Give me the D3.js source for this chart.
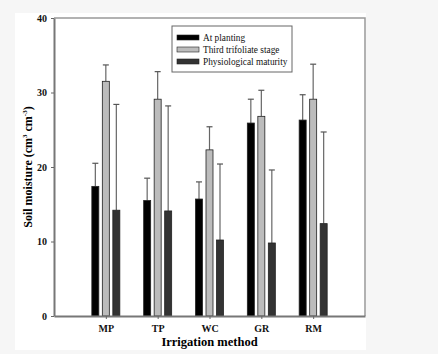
<!DOCTYPE html>
<head>
  <meta charset="utf-8">
  <title>Soil moisture</title>
  <script src="https://d3js.org/d3.v7.min.js"></script>
  <style>
    body { margin: 0; background: #f6f6f6; }
    text { font-family: "Liberation Serif", "DejaVu Serif", serif; }
  </style>
</head>
<body>
  <div id="chart"></div>
  <script>
    // Daten
    var methods = ['MP', 'TP', 'WC', 'GR', 'RM'];
    var stages = ['At planting', 'Third trifoliate stage', 'Physiological maturity'];
    var planting = [17.4, 15.5, 15.7, 25.9, 26.3];
    var plantingErr = [3.1, 3.0, 2.3, 3.2, 3.4];
    var trifoliate = [31.5, 29.1, 22.3, 26.8, 29.1];
    var trifoliateErr = [2.2, 3.7, 3.1, 3.5, 4.7];
    var maturity = [14.2, 14.1, 10.2, 9.8, 12.4];
    var maturityErr = [14.2, 14.1, 10.2, 9.8, 12.3];
    var yTicks = [0, 10, 20, 30, 40];

    var colors = ['#000000', '#bcbcbc', '#333333'];
    var series = [planting, trifoliate, maturity];
    var errors = [plantingErr, trifoliateErr, maturityErr];

    var width = 438, height = 354;
    var margin = { top: 18, right: 73, bottom: 38, left: 54 };
    var serif = '"Liberation Serif", "Times New Roman", serif';

    var svg = d3.select('#chart').append('svg')
      .attr('width', width)
      .attr('height', height);

    // weisse Grafikflaeche
    svg.append('rect')
      .attr('x', 15).attr('y', 13)
      .attr('width', 351).attr('height', 337)
      .attr('fill', '#fff');

    var x = d3.scalePoint()
      .domain(methods)
      .range([margin.left, width - margin.right])
      .padding(1);

    var y = d3.scaleLinear()
      .domain([0, 40])
      .range([height - margin.bottom, margin.top]);

    var offsets = [-10.5, 0, 10.5];
    var barW = 7;

    // Rahmen oben und rechts
    svg.append('path')
      .attr('d', 'M' + margin.left + ',' + y(40) + 'H' + (width - margin.right) + 'V' + y(0))
      .attr('fill', 'none')
      .attr('stroke', '#999')
      .attr('stroke-width', 1.5);

    // Balken und Fehlerbalken
    series.forEach(function (vals, s) {
      var g = svg.append('g');
      var rows = methods.map(function (m, i) {
        return { m: m, v: vals[i], e: errors[s][i] };
      });
      g.selectAll('line.err')
        .data(rows)
        .enter().append('line')
          .attr('x1', function (d) { return x(d.m) + offsets[s]; })
          .attr('x2', function (d) { return x(d.m) + offsets[s]; })
          .attr('y1', function (d) { return y(d.v); })
          .attr('y2', function (d) { return y(d.v + d.e); })
          .attr('stroke', '#666')
          .attr('stroke-width', 1.2);
      g.selectAll('line.cap')
        .data(rows)
        .enter().append('line')
          .attr('x1', function (d) { return x(d.m) + offsets[s] - 3; })
          .attr('x2', function (d) { return x(d.m) + offsets[s] + 3; })
          .attr('y1', function (d) { return y(d.v + d.e); })
          .attr('y2', function (d) { return y(d.v + d.e); })
          .attr('stroke', '#555')
          .attr('stroke-width', 1.2);
      g.selectAll('rect')
        .data(rows)
        .enter().append('rect')
          .attr('x', function (d) { return x(d.m) + offsets[s] - barW / 2; })
          .attr('y', function (d) { return y(d.v); })
          .attr('width', barW)
          .attr('height', function (d) { return y(0) - y(d.v); })
          .attr('fill', colors[s])
          .attr('stroke', '#222')
          .attr('stroke-width', 0.8);
    });

    // Achsen
    var xAxis = svg.append('g')
      .attr('transform', 'translate(0,' + y(0) + ')')
      .call(d3.axisBottom(x).tickSize(3).tickSizeOuter(0).tickPadding(6));
    var yAxis = svg.append('g')
      .attr('transform', 'translate(' + margin.left + ',0)')
      .call(d3.axisLeft(y).tickValues(yTicks).tickSize(3).tickSizeOuter(0).tickPadding(4));

    [xAxis, yAxis].forEach(function (a) {
      a.select('.domain').attr('stroke', '#777').attr('stroke-width', 2);
      a.selectAll('.tick line').attr('stroke', '#666');
      a.selectAll('.tick text')
        .attr('fill', '#111')
        .style('font-family', serif)
        .style('font-size', '10px')
        .style('font-weight', 'bold');
    });

    // Achsentitel
    svg.append('text')
      .attr('x', (margin.left + width - margin.right) / 2)
      .attr('y', 346)
      .attr('text-anchor', 'middle')
      .style('font-family', serif)
      .style('font-size', '12.5px')
      .style('font-weight', 'bold')
      .text('Irrigation method');

    var yt = svg.append('text')
      .attr('transform', 'translate(32,' + y(20) + ') rotate(-90)')
      .attr('text-anchor', 'middle')
      .style('font-family', serif)
      .style('font-size', '12px')
      .style('font-weight', 'bold');
    yt.append('tspan').text('Soil moisture (cm');
    yt.append('tspan').attr('dy', -5).style('font-size', '7px').text('3');
    yt.append('tspan').attr('dy', 5).text(' cm');
    yt.append('tspan').attr('dy', -5).style('font-size', '7px').text('-3');
    yt.append('tspan').attr('dy', 5).text(')');

    // Legende
    var lg = svg.append('g').attr('transform', 'translate(172,26)');
    lg.append('rect')
      .attr('width', 120).attr('height', 46)
      .attr('fill', '#fff')
      .attr('stroke', '#666')
      .attr('stroke-width', 1);
    stages.forEach(function (name, i) {
      lg.append('rect')
        .attr('x', 5).attr('y', 9 + i * 12)
        .attr('width', 22).attr('height', 5)
        .attr('fill', colors[i])
        .attr('stroke', '#222')
        .attr('stroke-width', 0.6);
      lg.append('text')
        .attr('x', 31).attr('y', 15 + i * 12)
        .style('font-family', serif)
        .style('font-size', '9.3px')
        .attr('fill', '#111')
        .text(name);
    });
  </script>
</body>
